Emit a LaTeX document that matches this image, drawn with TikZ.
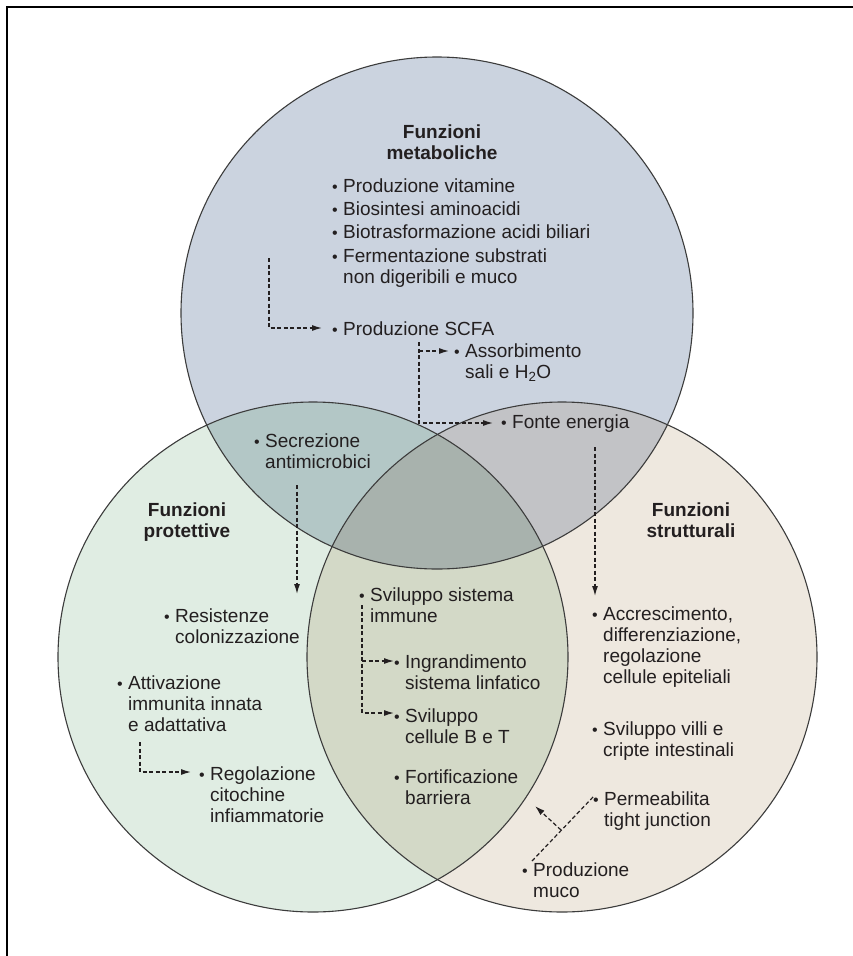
\documentclass[tikz,border=0pt]{standalone}
\usepackage{fontspec}
\setmainfont{Liberation Sans}
\usetikzlibrary{arrows.meta}
\definecolor{topc}{HTML}{CBD3DF}
\definecolor{leftc}{HTML}{E0EDE3}
\definecolor{rightc}{HTML}{EEE8DF}
\definecolor{tlc}{HTML}{B3C7C6}
\definecolor{trc}{HTML}{C2C3C6}
\definecolor{lrc}{HTML}{D3D9C7}
\definecolor{tlrc}{HTML}{A8B2AD}
\definecolor{ink}{HTML}{231F20}
\definecolor{edge}{HTML}{3C3C3C}
\newcommand{\bul}{\llap{{\fontsize{16}{16}\selectfont\textbullet}\hspace{5.5pt}}}
\newcommand{\Lt}[1]{\begin{tabular}[t]{@{}l@{}}#1\end{tabular}}
\newcommand{\Ct}[1]{\begin{tabular}[t]{@{}c@{}}#1\end{tabular}}
\tikzset{
  txt/.style={inner sep=0pt, anchor=base west, text=ink, font=\fontsize{19}{21.3}\selectfont},
  head/.style={inner sep=0pt, anchor=base, text=ink, font=\fontsize{19}{21.3}\selectfont\bfseries},
  circ/.style={draw=edge, line width=1.1pt},
  dline/.style={draw=ink, line width=1.2pt, dash pattern=on 4pt off 2.5pt},
  arr/.style={dline, -{Latex[length=10pt,width=6pt]}}
}
\begin{document}
\begin{tikzpicture}[x=1pt,y=-1pt]
\useasboundingbox (0,0) rectangle (853,956);
\fill[white] (0,0) rectangle (853,956);
% circles
\coordinate (CT) at (437,313);
\coordinate (CL) at (313,657);
\coordinate (CR) at (562,657);
\fill[topc] (CT) circle[radius=256];
\fill[leftc] (CL) circle[radius=255];
\fill[rightc] (CR) circle[radius=255];
\begin{scope}
  \clip (CT) circle[radius=256];
  \fill[tlc] (CL) circle[radius=255];
  \fill[trc] (CR) circle[radius=255];
\end{scope}
\begin{scope}
  \clip (CL) circle[radius=255];
  \fill[lrc] (CR) circle[radius=255];
  \clip (CR) circle[radius=255];
  \fill[tlrc] (CT) circle[radius=256];
\end{scope}
\draw[circ] (CT) circle[radius=256];
\draw[circ] (CL) circle[radius=255];
\draw[circ] (CR) circle[radius=255];
% frame
\draw[line width=2pt, black] (7,956) -- (7,6.5) -- (853,6.5);

% headings
\node[head] (hm) at (442,138) {\Ct{Funzioni\\metaboliche}};
\node[head] (hp) at (187,516) {\Ct{Funzioni\\protettive}};
\node[head] (hs) at (691,516) {\Ct{Funzioni\\strutturali}};

% top circle
\node[txt] (t1) at (343,192) {\Lt{\bul Produzione vitamine}};
\node[txt] (t2) at (343,215) {\Lt{\bul Biosintesi aminoacidi}};
\node[txt] (t3) at (343,238) {\Lt{\bul Biotrasformazione acidi biliari}};
\node[txt] (t4) at (343,262) {\Lt{\bul Fermentazione substrati\\non digeribili e muco}};
\node[txt] (t5) at (343,335) {\Lt{\bul Produzione SCFA}};
\node[txt] (t6) at (465,357) {\Lt{\bul Assorbimento\\sali e H\textsubscript{2}O}};
\node[txt] (t7) at (512,428) {\Lt{\bul Fonte energia}};

% left circle
\node[txt] (l1) at (265,447) {\Lt{\bul Secrezione\\antimicrobici}};
\node[txt] (l2) at (175,622) {\Lt{\bul Resistenze\\colonizzazione}};
\node[txt] (l3) at (128,689) {\Lt{\bul Attivazione\\immunita innata\\e adattativa}};
\node[txt] (l4) at (210,780) {\Lt{\bul Regolazione\\citochine\\infiammatorie}};

% center
\node[txt] (c1) at (370,601) {\Lt{\bul Sviluppo sistema\\immune}};
\node[txt] (c2) at (405,668) {\Lt{\bul Ingrandimento\\sistema linfatico}};
\node[txt] (c3) at (405,722) {\Lt{\bul Sviluppo\\cellule B e T}};
\node[txt] (c4) at (405,783) {\Lt{\bul Fortificazione\\barriera}};

% right circle
\node[txt] (r1) at (603,620) {\Lt{\bul Accrescimento,\\differenziazione,\\regolazione\\cellule epiteliali}};
\node[txt] (r2) at (603,735) {\Lt{\bul Sviluppo villi e\\cripte intestinali}};
\node[txt] (r3) at (604,805) {\Lt{\bul Permeabilita\\tight junction}};
\node[txt] (r4) at (533,876) {\Lt{\bul Produzione\\muco}};

% connectors
\coordinate (a1) at (269,258);
\coordinate (a2) at (269,328);
\coordinate (a3) at (322,328);
\draw[arr] (a1) -- (a2) -- (a3);

\coordinate (b1) at (419,342);
\coordinate (b2) at (419,423);
\coordinate (b3) at (493,423);
\coordinate (b4) at (419,351);
\coordinate (b5) at (449,351);
\draw[arr] (b1) -- (b2) -- (b3);
\draw[arr] (b4) -- (b5);

\coordinate (s1) at (297,485);
\coordinate (s2) at (297,594);
\draw[arr] (s1) -- (s2);

\coordinate (d1) at (140,742);
\coordinate (d2) at (140,772);
\coordinate (d3) at (191,772);
\draw[arr] (d1) -- (d2) -- (d3);

\coordinate (e1) at (362,605);
\coordinate (e2) at (362,713);
\coordinate (e3) at (394,713);
\coordinate (e4) at (362,661);
\coordinate (e5) at (394,661);
\draw[arr] (e1) -- (e2) -- (e3);
\draw[arr] (e4) -- (e5);

\coordinate (f1) at (595,447);
\coordinate (f2) at (595,596);
\draw[arr] (f1) -- (f2);

\coordinate (g1) at (532,861);
\coordinate (g2) at (594,796);
\coordinate (g3) at (561,830);
\coordinate (g4) at (535,806);
\draw[dline] (g1) -- (g2);
\draw[arr] (g3) -- (g4);
\end{tikzpicture}
\end{document}
